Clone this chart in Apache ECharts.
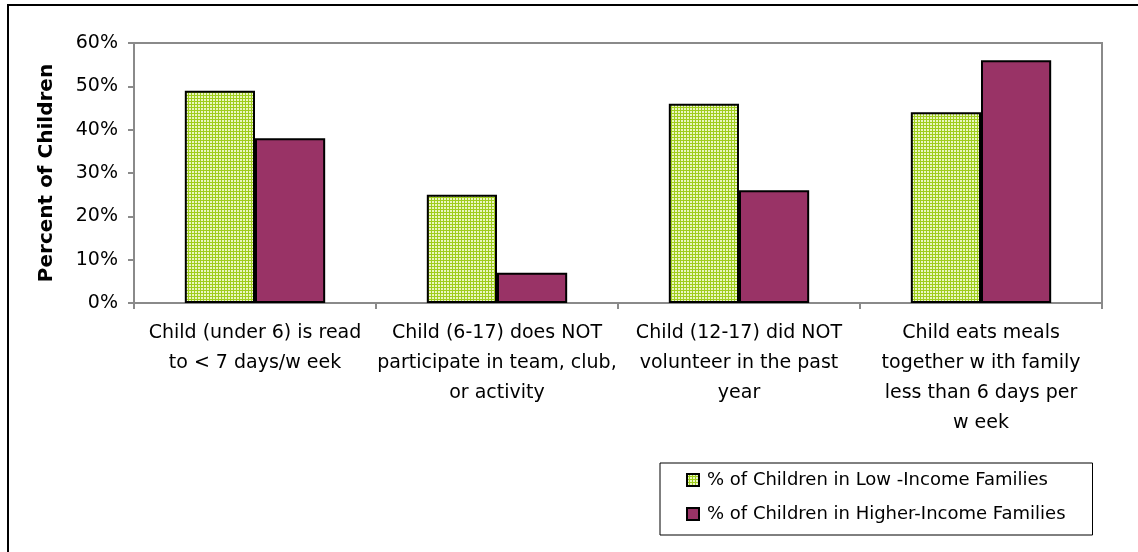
<!DOCTYPE html>
<html>
<head>
<meta charset="utf-8">
<script src="https://cdn.jsdelivr.net/npm/echarts@6/dist/echarts.min.js"></script>
<style>
  html, body { margin: 0; padding: 0; background: #fff; }
  #chart { width: 1138px; height: 552px; }
</style>
</head>
<body>
<div id="chart"></div>
<script>
// Activity measures, percent of children by family income
const categories = [
  'Child (under 6) is read\nto < 7 days/w eek',
  'Child (6-17) does NOT\nparticipate in team, club,\nor activity',
  'Child (12-17) did NOT\nvolunteer in the past\nyear',
  'Child eats meals\ntogether w ith family\nless than 6 days per\nw eek'
];
const lowIncome = [49, 25, 46, 44];
const higherIncome = [38, 7, 26, 56];
const seriesNames = [
  '% of Children in Low -Income Families',
  '% of Children in Higher-Income Families'
];
const yTicks = { min: 0, max: 60, interval: 10 };

// Light-green grid texture for the low-income bars:
// pale squares separated by thin lime lines
function gridPattern() {
  const c = document.createElement('canvas');
  c.width = 3; c.height = 3;
  const g = c.getContext('2d');
  g.fillStyle = '#9fcd1c';
  g.fillRect(0, 0, 3, 3);
  g.fillStyle = '#eaf6c2';
  g.fillRect(0, 0, 2, 2);
  return { image: c.toDataURL(), repeat: 'repeat' };
}

const font = 'DejaVu Sans';
const chart = echarts.init(document.getElementById('chart'), null, { renderer: 'canvas' });

chart.setOption({
  backgroundColor: '#ffffff',
  animation: false,
  textStyle: { fontFamily: font, color: '#000' },
  graphic: [{
    type: 'rect',
    shape: { x: 8, y: 5, width: 1200, height: 600 },
    style: { fill: 'none', stroke: '#000', lineWidth: 2 },
    silent: true
  }],
  grid: {
    left: 134, top: 43, right: 36, bottom: 249,
    show: true, borderColor: '#8a8a8a', borderWidth: 2,
    containLabel: false
  },
  legend: {
    orient: 'vertical',
    left: 660, top: 463,
    padding: [6, 27, 10, 26],
    itemGap: 12,
    itemWidth: 12, itemHeight: 12,
    icon: 'rect',
    borderColor: '#000', borderWidth: 1,
    textStyle: { fontFamily: font, fontSize: 18, lineHeight: 22, color: '#000', padding: [0, 0, 0, 3] },
    data: seriesNames
  },
  xAxis: {
    type: 'category',
    data: categories,
    axisLine: { lineStyle: { color: '#8a8a8a', width: 2 } },
    axisTick: { show: true, length: 6, lineStyle: { color: '#8a8a8a', width: 2 } },
    axisLabel: {
      interval: 0, margin: 15,
      fontFamily: font, fontSize: 19, lineHeight: 30, color: '#000', align: 'center'
    },
    splitLine: { show: false }
  },
  yAxis: {
    type: 'value',
    min: yTicks.min, max: yTicks.max, interval: yTicks.interval,
    name: 'Percent of Children',
    nameLocation: 'middle',
    nameRotate: 90,
    nameGap: 77,
    nameTextStyle: { fontFamily: font, fontSize: 20, fontWeight: 'bold', color: '#000' },
    axisLine: { show: true, lineStyle: { color: '#8a8a8a', width: 2 } },
    axisTick: { show: true, length: 6, lineStyle: { color: '#8a8a8a', width: 2 } },
    axisLabel: {
      formatter: '{value}%', margin: 16,
      fontFamily: font, fontSize: 19, color: '#000'
    },
    splitLine: { show: false }
  },
  series: [
    {
      name: seriesNames[0],
      type: 'bar',
      data: lowIncome,
      barGap: '0%',
      barCategoryGap: '42%',
      itemStyle: { color: gridPattern(), borderColor: '#000', borderWidth: 2 }
    },
    {
      name: seriesNames[1],
      type: 'bar',
      data: higherIncome,
      itemStyle: { color: '#993366', borderColor: '#000', borderWidth: 2 }
    }
  ]
});
</script>
</body>
</html>
